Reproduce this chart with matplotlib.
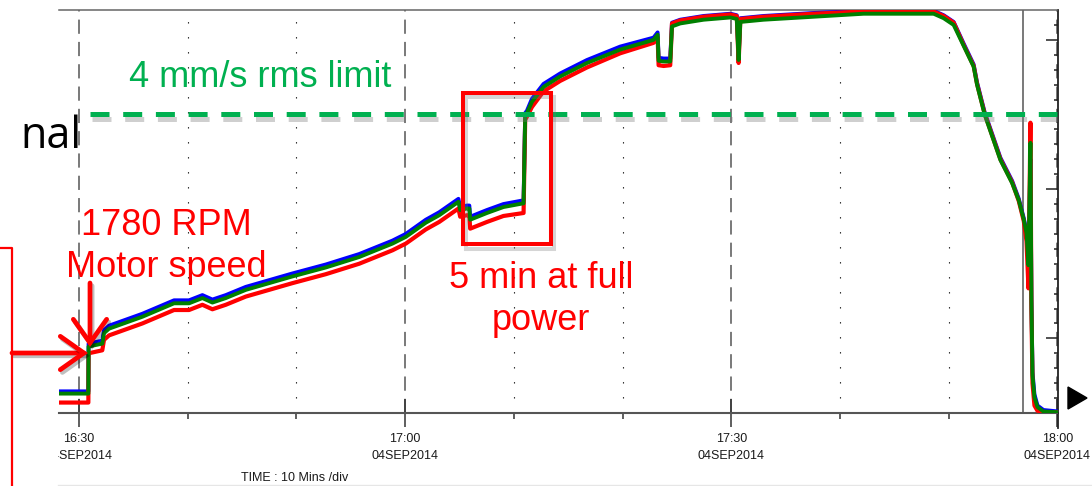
"""Vibration trend during motor run-up, recreated from a slide screenshot."""
import matplotlib

matplotlib.use("Agg")
import matplotlib.patches as mpatches
import matplotlib.patheffects as pe
import matplotlib.pyplot as plt
from matplotlib.font_manager import fontManager
from matplotlib.lines import Line2D
from matplotlib.transforms import Bbox, TransformedBbox

# Time axis: minutes after 16:30 on 04SEP2014.
t_min = [
    -1.84, 0.86, 0.88, 2.14, 2.30, 2.76, 5.83, 8.74, 10.12, 11.35,
    12.27, 13.50, 15.34, 19.63, 22.70, 25.77, 28.83, 30.06, 31.90, 33.13,
    34.90, 35.06, 35.68, 35.90, 35.98, 37.52, 39.04, 40.89, 41.04, 41.20,
    41.66, 42.73, 44.26, 46.72, 49.78, 52.85, 53.22, 53.31, 53.77, 54.38,
    54.54, 55.30, 57.45, 59.91, 60.50, 60.67, 60.83, 62.97, 67.57, 72.17,
    76.77, 78.61, 79.53, 80.45, 81.37, 82.29, 82.60, 83.30, 84.75, 85.83,
    86.44, 86.90, 87.15, 87.33, 87.51, 87.60, 87.70, 87.88, 88.16, 88.71, 90.09,
]

# Vibration velocity (mm/s rms) for the three channels.
green_v = [
    0.26, 0.26, 0.89, 0.93, 1.07, 1.13, 1.29, 1.47, 1.47, 1.54,
    1.48, 1.54, 1.65, 1.83, 1.95, 2.09, 2.27, 2.36, 2.55, 2.65,
    2.83, 2.72, 2.74, 2.74, 2.59, 2.68, 2.76, 2.81, 3.99, 4.02,
    4.17, 4.37, 4.51, 4.69, 4.87, 5.00, 5.07, 4.72, 4.71, 4.71,
    5.18, 5.22, 5.27, 5.30, 5.28, 4.73, 5.24, 5.27, 5.31, 5.35,
    5.35, 5.35, 5.29, 5.20, 4.92, 4.64, 4.40, 4.00, 3.39, 3.08,
    2.85, 2.59, 2.41, 1.98, 3.62, 1.51, 0.50, 0.21, 0.08, 0.02, 0.01,
]
blue_v = [
    0.29, 0.29, 0.93, 0.97, 1.11, 1.17, 1.33, 1.51, 1.51, 1.58,
    1.52, 1.58, 1.69, 1.87, 1.99, 2.13, 2.31, 2.40, 2.59, 2.69,
    2.87, 2.76, 2.78, 2.78, 2.63, 2.72, 2.80, 2.85, 4.02, 4.05,
    4.21, 4.41, 4.55, 4.73, 4.91, 5.03, 5.10, 4.76, 4.75, 4.75,
    5.23, 5.27, 5.32, 5.35, 5.33, 4.78, 5.29, 5.32, 5.36, 5.39,
    5.39, 5.39, 5.33, 5.24, 4.95, 4.67, 4.43, 4.03, 3.42, 3.11,
    2.87, 2.61, 2.43, 2.00, 3.40, 1.55, 0.55, 0.25, 0.10, 0.04, 0.02,
]
red_v = [
    0.14, 0.14, 0.80, 0.84, 0.98, 1.04, 1.20, 1.38, 1.38, 1.45,
    1.39, 1.45, 1.56, 1.74, 1.86, 2.00, 2.18, 2.27, 2.46, 2.56,
    2.74, 2.63, 2.65, 2.65, 2.47, 2.56, 2.64, 2.68, 3.93, 3.97,
    4.10, 4.31, 4.45, 4.63, 4.82, 4.96, 5.03, 4.66, 4.65, 4.66,
    5.22, 5.26, 5.31, 5.34, 5.32, 4.69, 5.28, 5.31, 5.35, 5.38,
    5.38, 5.38, 5.32, 5.23, 4.93, 4.65, 4.41, 4.01, 3.40, 3.09,
    2.84, 2.57, 2.30, 1.67, 3.89, 1.40, 0.40, 0.10, 0.03, 0.01, 0.01,
]

LIMIT = 4.0                  # mm/s rms alarm limit
limit_span = [1.0, 90.0]     # minutes covered by the limit line
cursor_t = 86.87             # cursor position, minutes
box_t = [35.3, 43.4]         # "5 min at full power" window
box_v = [2.26, 4.29]

major_t = [0, 30, 60, 90]
minor_t = [10, 20, 40, 50, 70, 80]
major_labels = ["16:30\n04SEP2014", "17:00\n04SEP2014",
                "17:30\n04SEP2014", "18:00\n04SEP2014"]

W, H = 1092, 486
installed = {f.name for f in fontManager.ttflist}
TICK_FONT = "Liberation Sans Narrow" if "Liberation Sans Narrow" in installed else "Liberation Sans"
TICK_SIZE = 11 if TICK_FONT == "Liberation Sans Narrow" else 9
SLIDE_FONT = "Liberation Sans"


def fx(x):
    return x / W


def fy(y):
    return 1 - y / H


fig = plt.figure(figsize=(W / 100, H / 100), dpi=100)
ax = fig.add_axes([fx(59), fy(413), (1057.5 - 59) / W, (413 - 10) / H])
ax.set_xlim(-1.84, 90)
ax.set_ylim(0, 5.4)

# Traces.
ax.plot(t_min, blue_v, color="#0000FF", lw=2.8, zorder=3)
ax.plot(t_min, red_v, color="#FF0000", lw=3.0, zorder=3.5)
ax.plot(t_min, green_v, color="#008000", lw=2.8, zorder=4)

# Cursor line.
ax.axvline(cursor_t, color="#555555", lw=1.1, zorder=2)

# Spines.
ax.spines["left"].set_visible(False)
ax.spines["top"].set_color("#666666")
ax.spines["top"].set_linewidth(1.1)
ax.spines["bottom"].set_color("#555555")
ax.spines["bottom"].set_linewidth(1.5)
ax.spines["right"].set_color("#222222")
ax.spines["right"].set_linewidth(1.3)
ax.plot([1, 1], [0, -0.037], transform=ax.transAxes, clip_on=False,
        color="#222222", lw=1.3)

# X ticks and grid.
ax.set_xticks(major_t)
ax.set_xticklabels(major_labels, fontfamily=TICK_FONT, fontsize=TICK_SIZE,
                   color="#1a1a1a", linespacing=1.6)
ax.set_xticks(minor_t, minor=True)
ax.tick_params(axis="x", which="major", direction="inout", length=19.5,
               width=1.1, color="#333333", pad=4.5)
ax.tick_params(axis="x", which="minor", direction="out", length=4.5,
               width=1.1, color="#333333")
ax.grid(which="major", axis="x", color="#555555", lw=1.1,
        linestyle=(0, (9.3, 5.3)))
ax.grid(which="minor", axis="x", color="#111111", lw=0.8,
        linestyle=(0, (1.2, 12.3)))

# Right-hand ticks only.
ax.yaxis.tick_right()
ax.set_yticks([1, 3, 5])
ax.set_yticks([i * 0.2 for i in range(1, 27)], minor=True)
ax.tick_params(axis="y", which="major", direction="in", length=8.3,
               width=1.1, color="#222222", labelright=False)
ax.tick_params(axis="y", which="minor", direction="in", length=3.2,
               width=1.1, color="#222222")

# The screenshot is cropped at x=58: clip the tick labels there.
clip = TransformedBbox(Bbox([[fx(58), 0], [1, 1]]), fig.transFigure)
for lbl in ax.get_xticklabels():
    lbl.set_clip_box(clip)
    lbl.set_clip_on(True)

fig.text(fx(241), fy(481), "TIME : 10 Mins /div", fontfamily=TICK_FONT,
         fontsize=TICK_SIZE, color="#1a1a1a", va="baseline")

# Limit line with a soft shadow.
ax.plot(limit_span, [LIMIT, LIMIT], color="#00B050", lw=3.6,
        linestyle=(0, (3.8, 2.74)), solid_capstyle="butt",
        dash_capstyle="butt", zorder=6,
        path_effects=[pe.SimpleLineShadow(offset=(1.5, -3), shadow_color="#777777", alpha=0.35),
                      pe.Normal()])
fig.text(fx(129), fy(87), "4 mm/s rms limit", fontfamily=SLIDE_FONT,
         fontsize=26, color="#00B050", va="baseline")

# "5 min at full power" window, drawn as an outline with a soft shadow.
ax.plot([box_t[0], box_t[1], box_t[1], box_t[0], box_t[0]],
        [box_v[0], box_v[0], box_v[1], box_v[1], box_v[0]],
        color="#FF0000", lw=2.9, solid_joinstyle="miter", zorder=7,
        path_effects=[pe.SimpleLineShadow(offset=(2, -3), shadow_color="#777777", alpha=0.3),
                      pe.Normal()])
fig.text(fx(541), fy(288), "5 min at full", fontfamily=SLIDE_FONT,
         fontsize=26, color="#FF0000", ha="center", va="baseline")
fig.text(fx(541), fy(330), "power", fontfamily=SLIDE_FONT,
         fontsize=26, color="#FF0000", ha="center", va="baseline")

# Motor speed annotation.
fig.text(fx(166), fy(235), "1780 RPM", fontfamily=SLIDE_FONT,
         fontsize=26, color="#FF0000", ha="center", va="baseline")
fig.text(fx(166), fy(277), "Motor speed", fontfamily=SLIDE_FONT,
         fontsize=26, color="#FF0000", ha="center", va="baseline")

arrow_style = "->,head_length=0.85,head_width=0.6"
for start, end in [((90, 283), (90, 347)), ((12, 353), (88, 353))]:
    arr = mpatches.FancyArrowPatch(
        (fx(start[0]), fy(start[1])), (fx(end[0]), fy(end[1])),
        transform=fig.transFigure, arrowstyle=arrow_style,
        mutation_scale=20, color="#FF0000", lw=3.4, shrinkA=0, shrinkB=0,
        capstyle="round", joinstyle="miter",
        path_effects=[pe.SimpleLineShadow(offset=(1.5, -2), alpha=0.25), pe.Normal()],
    )
    fig.add_artist(arr)

# Edge of a red frame on the slide, left of the chart.
fig.add_artist(Line2D([fx(0), fx(12), fx(12)], [fy(248), fy(248), fy(490)],
                      color="#FF0000", lw=1.6))

# Slide text cut off by the chart.
fig.text(fx(20), fy(148), "nal", fontfamily="Open Sans", fontsize=31,
         color="black", va="baseline")

# Scroll marker right of the axis.
fig.add_artist(mpatches.Polygon(
    [(fx(1068), fy(387)), (fx(1087), fy(398)), (fx(1068), fy(409))],
    closed=True, transform=fig.transFigure, color="black"))

# Faint border under the chart image.
fig.add_artist(Line2D([fx(58), 1], [fy(484.5), fy(484.5)],
                      color="#e6e6e6", lw=1))

fig.savefig("out.png", dpi=100)
plt.close(fig)
